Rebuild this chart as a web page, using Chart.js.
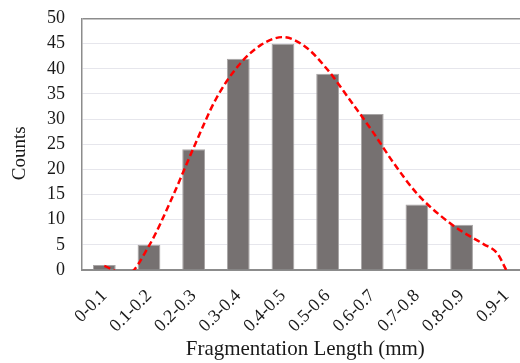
<!DOCTYPE html>
<html>
<head>
<meta charset="utf-8">
<script src="https://cdn.jsdelivr.net/npm/chart.js@4/dist/chart.umd.min.js"></script>
<style>
  html, body { margin: 0; padding: 0; background: #fff; overflow: hidden; }
  #wrap { position: relative; width: 537px; height: 363px; }
</style>
</head>
<body>
<div id="wrap"><canvas id="c"></canvas></div>
<script>
// Fragment length bins and their counts
const categories = ['0-0.1', '0.1-0.2', '0.2-0.3', '0.3-0.4', '0.4-0.5',
                    '0.5-0.6', '0.6-0.7', '0.7-0.8', '0.8-0.9', '0.9-1'];
const counts = [1, 5, 24, 42, 45, 39, 31, 13, 9, 0];

// Fitted distribution curve, sampled at bin centres and between them
// (x in bin-index units, 0 = first bin)
const fitX = [0, 0.5, 1, 1.5, 2, 2.5, 3, 3.5, 4, 4.5, 5, 5.5, 6, 6.5, 7, 7.5, 8, 8.5, 8.8, 9];
const fitY = [0.8, -0.9, 4.8, 14, 24.3, 34, 40.6, 44.7, 46.3, 44.4, 39.8, 33.8, 27.6, 21.0, 15.2, 11.0, 7.7, 5.1, 3.3, 0];

// Y axis ticks
const yTicks = [0, 5, 10, 15, 20, 25, 30, 35, 40, 45, 50];

const yTitle = 'Counts';
const xTitle = 'Fragmentation Length (mm)';

const serif = "'Liberation Serif', 'Times New Roman', serif";
const textColor = '#1a1a1a';

// Vertical axis title, drawn a little below the axis centre
const yTitlePlugin = {
  id: 'yTitle',
  afterDraw(chart) {
    const ctx = chart.ctx;
    const area = chart.chartArea;
    ctx.save();
    ctx.translate(20, (area.top + area.bottom) / 2 + 9);
    ctx.rotate(-Math.PI / 2);
    ctx.font = '19px ' + serif;
    ctx.fillStyle = textColor;
    ctx.textAlign = 'center';
    ctx.textBaseline = 'middle';
    ctx.fillText(yTitle, 0, 0);
    ctx.restore();
  }
};

new Chart(document.getElementById('c'), {
  data: {
    labels: categories,
    datasets: [
      {
        type: 'line',
        label: 'Fit',
        xAxisID: 'xc',
        data: fitX.map((x, i) => ({ x: x, y: fitY[i] })),
        borderColor: '#ff0000',
        borderWidth: 2.5,
        borderDash: [6.5, 3.5],
        pointRadius: 0,
        fill: false,
        cubicInterpolationMode: 'monotone',
        order: 0
      },
      {
        type: 'bar',
        label: 'Counts',
        xAxisID: 'x',
        data: counts,
        backgroundColor: '#767171',
        borderColor: '#a8a5a5',
        borderWidth: 1,
        grouped: false,
        categoryPercentage: 1,
        barPercentage: 0.51,
        order: 1
      }
    ]
  },
  options: {
    responsive: true,
    maintainAspectRatio: false,
    animation: false,
    layout: { padding: { top: 18.5, right: 0, bottom: 1, left: 41 } },
    plugins: { legend: { display: false }, tooltip: { enabled: false } },
    scales: {
      x: {
        type: 'category',
        offset: true,
        grid: { display: false, drawTicks: false },
        border: { display: true, color: '#8c8c8c', width: 2 },
        ticks: {
          color: textColor,
          font: { family: serif, size: 18 },
          maxRotation: 45,
          minRotation: 45,
          padding: 15.5,
          autoSkip: false
        },
        title: {
          display: true,
          text: xTitle,
          color: textColor,
          font: { family: serif, size: 21 },
          padding: { top: -15.5, bottom: 0 }
        }
      },
      xc: {
        type: 'linear',
        display: false,
        min: -0.5,
        max: 9.5
      },
      y: {
        min: 0,
        max: 50,
        afterBuildTicks: (axis) => { axis.ticks = yTicks.map(v => ({ value: v })); },
        grid: {
          drawTicks: true,
          tickLength: 11,
          tickColor: 'rgba(0,0,0,0)',
          color: (ctx) => (ctx.tick && ctx.tick.value === 50) ? '#8c8c8c' : '#e6e6ec',
          lineWidth: (ctx) => (ctx.tick && ctx.tick.value === 50) ? 1.5 : 1
        },
        border: { display: true, color: '#8c8c8c', width: 1.5 },
        ticks: {
          color: textColor,
          font: { family: serif, size: 18 },
          padding: 6,
          autoSkip: false
        },
        title: { display: false }
      }
    }
  },
  plugins: [yTitlePlugin]
});
</script>
</body>
</html>
